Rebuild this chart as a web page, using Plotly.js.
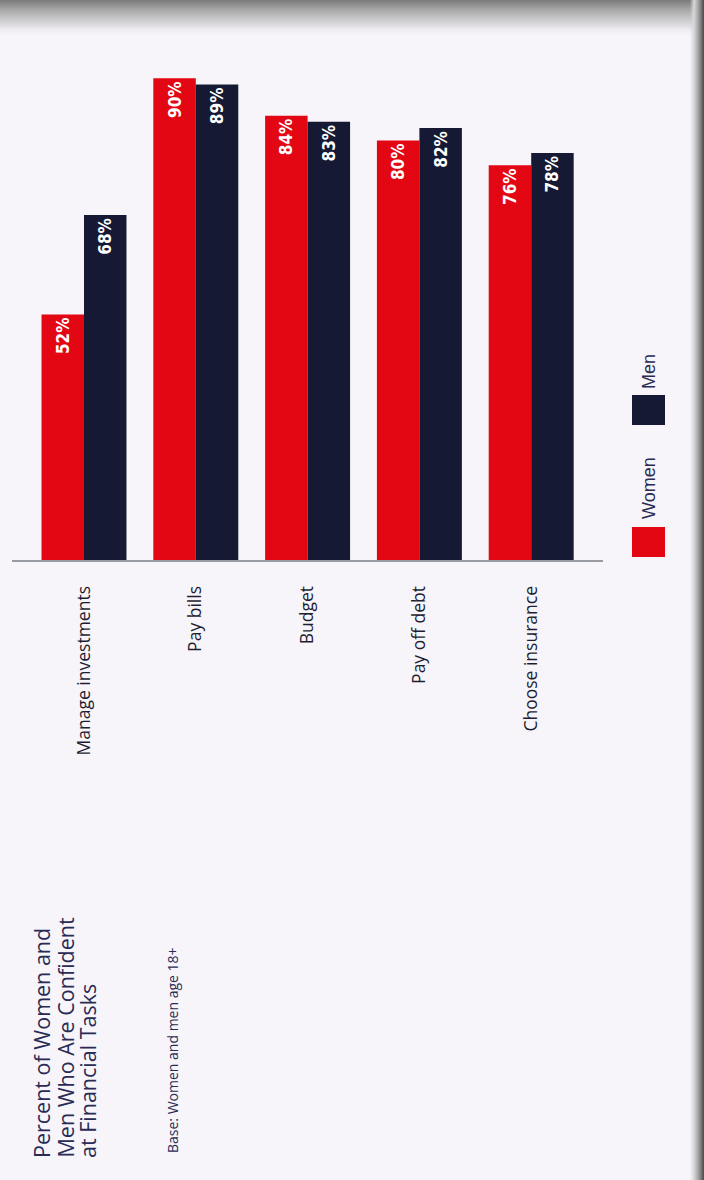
<!DOCTYPE html>
<html>
<head>
<meta charset="utf-8">
<script src="https://cdn.plot.ly/plotly-3.0.1.min.js"></script>
<style>
  html, body { margin: 0; padding: 0; }
  #chart {
    width: 704px; height: 1180px;
    background:
      linear-gradient(to left, #4a4a4a 0px, #9a9a9a 5px, #d8d6da 10px, rgba(246,243,247,0) 14px),
      linear-gradient(to bottom, #7a7a7a 0px, #a9a9a9 10px, #d2d1d4 22px, #efedf1 30px, #f7f5f9 36px);
  }
</style>
</head>
<body>
<div id="chart"></div>
<script>
// ---- data ----
const categories = ["Manage investments", "Pay bills", "Budget", "Pay off debt", "Choose insurance"];
const women = [52, 90, 84, 80, 76];
const men = [68, 89, 83, 82, 78];
const seriesNames = ["Women", "Men"];
const titleLines = ["Percent of Women and", "Men Who Are Confident", "at Financial Tasks"];
const baseNote = "Base: Women and men age 18+";

// ---- layout geometry (pixels) ----
const W = 704, H = 1180;
const L = 12, R = 603, T = 30, B = 560;
const px2x = px => (px - L) / (R - L);
const py2y = py => (B - py) / (B - T);

const RED = "#e30613", NAVY = "#151934", INK = "#2a2b55";

const fmt = v => v + "%";
const traces = [
  { name: seriesNames[0], values: women, color: RED },
  { name: seriesNames[1], values: men, color: NAVY }
].map(s => ({
  type: "bar",
  x: categories,
  y: s.values,
  name: s.name,
  marker: { color: s.color, line: { width: 0 } },
  text: s.values.map(fmt),
  textposition: "inside",
  insidetextanchor: "end",
  textangle: -90,
  textfont: { family: "DejaVu Sans Condensed, DejaVu Sans", size: 17, color: "#ffffff", weight: "bold" },
  hoverinfo: "skip",
  cliponaxis: true
}));

const step = 111.8;
const x0 = -(84 - L) / step;
const span = (R - L) / step;

const titleX = [42, 65, 88];

const layout = {
  width: W, height: H,
  margin: { l: L, r: W - R, t: T, b: H - B, pad: 0 },
  paper_bgcolor: "rgba(0,0,0,0)",
  plot_bgcolor: "rgba(0,0,0,0)",
  barmode: "group",
  bargap: 0.24,
  bargroupgap: 0,
  showlegend: false,
  font: { family: "Open Sans, sans-serif", color: "#2b2b3b" },
  xaxis: {
    type: "category",
    categoryorder: "array",
    categoryarray: categories,
    range: [x0, x0 + span],
    showline: true, linecolor: "#9a9aa2", linewidth: 2,
    ticks: "", showgrid: false, zeroline: false,
    tickangle: -90,
    ticklabelstandoff: 17,
    tickfont: { family: "Open Sans, sans-serif", size: 17.5, color: "#1e1e33" },
    fixedrange: true
  },
  yaxis: {
    range: [12.5, 12.5 + (B - T) / 6.215],
    visible: false, showgrid: false, zeroline: false, fixedrange: true
  },
  shapes: [
    { type: "rect", xref: "paper", yref: "paper", x0: px2x(632), x1: px2x(665), y0: py2y(557), y1: py2y(527),
      fillcolor: RED, line: { width: 0 } },
    { type: "rect", xref: "paper", yref: "paper", x0: px2x(632), x1: px2x(665), y0: py2y(425), y1: py2y(395),
      fillcolor: NAVY, line: { width: 0 } }
  ],
  annotations: titleLines.map((t, i) => ({
      xref: "paper", yref: "paper", x: px2x(titleX[i]), y: py2y(1160), xanchor: "center", yanchor: "bottom",
      text: t, textangle: -90, showarrow: false,
      font: { family: "Open Sans, sans-serif", size: 21.5, color: INK } })).concat([
    { xref: "paper", yref: "paper", x: px2x(172), y: py2y(1155), xanchor: "center", yanchor: "bottom",
      text: baseNote, textangle: -90, showarrow: false,
      font: { family: "Open Sans, sans-serif", size: 14, color: INK } },
    { xref: "paper", yref: "paper", x: px2x(649), y: py2y(488), xanchor: "center", yanchor: "middle",
      text: seriesNames[0], textangle: -90, showarrow: false,
      font: { family: "Liberation Sans, Arial, sans-serif", size: 18, color: INK } },
    { xref: "paper", yref: "paper", x: px2x(649), y: py2y(372), xanchor: "center", yanchor: "middle",
      text: seriesNames[1], textangle: -90, showarrow: false,
      font: { family: "Liberation Sans, Arial, sans-serif", size: 18, color: INK } }
  ])
};

Plotly.newPlot("chart", traces, layout, { staticPlot: true, displayModeBar: false });
</script>
</body>
</html>
